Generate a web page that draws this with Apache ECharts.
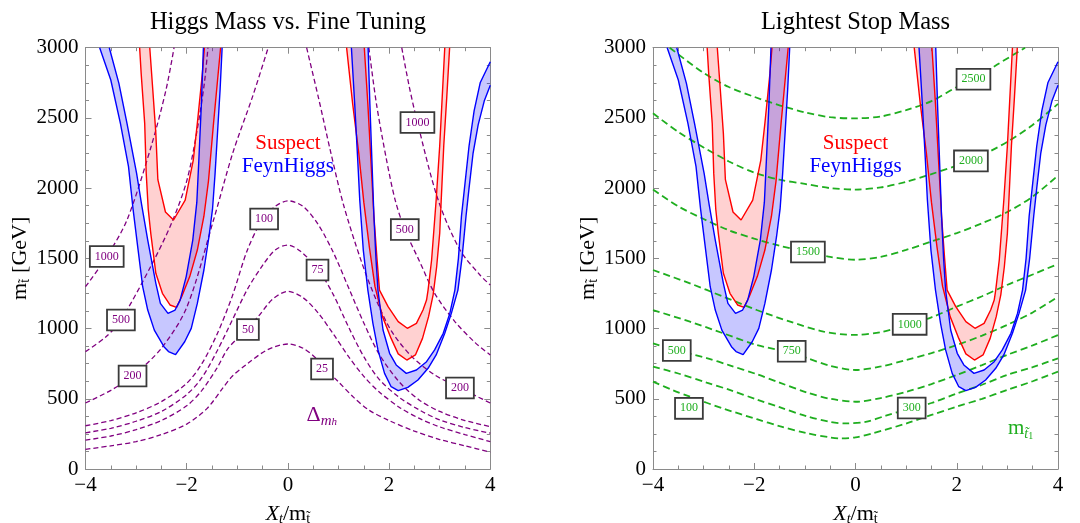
<!DOCTYPE html>
<html><head><meta charset="utf-8">
<script src="https://cdn.jsdelivr.net/npm/echarts@6/dist/echarts.min.js"></script>
<style>html,body{margin:0;padding:0;background:#fff}#c{width:1080px;height:523px}</style>
</head><body><div id="c"></div>
<script>
// ---------------- DATA ----------------
const panelTitles = ['Higgs Mass vs. Fine Tuning', 'Lightest Stop Mass'];
const xRange = [-4, 4];
const yRange = [0, 3000];

// Higgs-mass bands (same in both panels) : [X_t/m, m_stop]
// Left "U" (negative X_t)
const blueOuterL = [[-3.72,3000],[-3.50,2770],[-3.31,2461],[-3.15,2153],[-3.06,1850],[-2.96,1559],[-2.87,1298],[-2.77,1132],[-2.64,989],[-2.45,871],[-2.36,836],[-2.22,815],[-2.04,906],[-1.91,1001],[-1.79,1179],[-1.66,1417],[-1.56,1654],[-1.49,1850],[-1.44,2100],[-1.39,2400],[-1.34,2700],[-1.30,3000]];
const blueInnerL = [[-3.53,3000],[-3.34,2746],[-3.18,2461],[-2.99,2105],[-2.89,1880],[-2.77,1630],[-2.61,1322],[-2.52,1179],[-2.37,1108],[-2.23,1132],[-2.13,1203],[-2.01,1370],[-1.88,1630],[-1.80,1900],[-1.76,2200],[-1.71,2600],[-1.67,3000]];
const redOuterL = [[-2.93,3000],[-2.90,2817],[-2.83,2461],[-2.80,2105],[-2.76,1850],[-2.71,1678],[-2.61,1394],[-2.48,1251],[-2.33,1168],[-2.20,1151],[-2.10,1227],[-1.94,1370],[-1.79,1559],[-1.66,1800],[-1.57,2050],[-1.47,2461],[-1.39,2770],[-1.33,3000]];
const redInnerL = [[-2.73,3000],[-2.67,2699],[-2.61,2390],[-2.57,2060],[-2.42,1830],[-2.26,1773],[-2.03,1915],[-1.87,2200],[-1.79,2461],[-1.69,2817],[-1.65,3000]];
// Right "U" (positive X_t)
const blueOuterR = [[1.255,3000],[1.32,2600],[1.38,2200],[1.42,1915],[1.49,1559],[1.58,1274],[1.68,1037],[1.78,848],[1.91,681],[2.04,586],[2.18,558],[2.37,581],[2.57,634],[2.77,717],[2.93,812],[3.10,966],[3.23,1108],[3.36,1274],[3.44,1500],[3.52,1800],[3.58,2000],[3.66,2250],[3.76,2450],[3.88,2620],[4.0,2733]];
const blueInnerR = [[1.585,3000],[1.62,2600],[1.66,2200],[1.70,1800],[1.74,1500],[1.78,1274],[1.88,990],[2.01,824],[2.14,741],[2.34,681],[2.54,705],[2.74,764],[2.90,848],[3.07,966],[3.20,1108],[3.30,1274],[3.37,1500],[3.43,1800],[3.49,2000],[3.58,2300],[3.68,2550],[3.80,2750],[4.0,2900]];
const redOuterR = [[1.16,3000],[1.28,2600],[1.40,2250],[1.50,1900],[1.61,1580],[1.72,1300],[1.87,1085],[2.04,930],[2.18,820],[2.35,776],[2.52,812],[2.66,930],[2.78,1085],[2.87,1240],[2.94,1440],[3.00,1678],[3.03,1915],[3.08,2300],[3.14,2650],[3.196,3000]];
const redInnerR = [[1.51,3000],[1.58,2600],[1.64,2200],[1.70,1800],[1.76,1500],[1.81,1274],[1.98,1156],[2.18,1049],[2.36,1002],[2.54,1037],[2.67,1132],[2.74,1203],[2.77,1274],[2.84,1488],[2.93,1915],[3.00,2300],[3.05,2650],[3.10,3000]];

// Fine-tuning contours Delta_mh (left panel)
const dm25 = [[-4,140],[-3.5,165],[-3,195],[-2.5,245],[-2,320],[-1.6,430],[-1.3,570],[-1.1,660],[-0.8,750],[-0.4,850],[0,890],[0.3,860],[0.55,790],[0.75,710],[1.0,620],[1.3,510],[1.6,420],[2.0,345],[2.5,270],[3.0,210],[3.5,165],[4,120]];
const dm50 = [[-4,205],[-3.5,235],[-3,280],[-2.5,345],[-2,450],[-1.7,560],[-1.4,720],[-1.2,850],[-1,930],[-0.6,1080],[-0.3,1210],[0,1265],[0.3,1220],[0.6,1110],[0.9,960],[1.2,800],[1.5,660],[1.8,550],[2.2,440],[2.6,360],[3,300],[3.5,245],[4,195]];
const dm75 = [[-4,258],[-3.5,290],[-3,340],[-2.5,410],[-2,530],[-1.7,650],[-1.4,840],[-1.1,1060],[-0.8,1280],[-0.5,1450],[-0.25,1560],[0,1595],[0.25,1550],[0.6,1420],[0.9,1240],[1.2,1010],[1.5,800],[1.8,640],[2.2,510],[2.6,420],[3,350],[3.5,295],[4,255]];
const dm100 = [[-4,308],[-3.5,345],[-3,400],[-2.5,480],[-2,610],[-1.7,750],[-1.4,960],[-1.1,1230],[-0.8,1560],[-0.5,1780],[-0.25,1870],[0,1910],[0.3,1870],[0.6,1740],[0.9,1540],[1.2,1290],[1.5,1040],[1.8,820],[2.2,620],[2.6,490],[3,410],[3.5,345],[4,302]];
const dm200L = [[-4,470],[-3.5,560],[-3.07,662],[-2.5,860],[-2,1150],[-1.47,1773],[-1.09,2250],[-0.7,2650],[-0.39,3000]];
const dm200R = [[0.37,3000],[0.6,2650],[0.85,2250],[1.1,1880],[1.45,1480],[1.75,1200],[2.05,980],[2.45,800],[2.9,670],[3.4,577],[4,470]];
const dm500L = [[-4,836],[-3.6,940],[-3.3,1061],[-2.7,1450],[-2.3,1750],[-2.0,2050],[-1.8,2400],[-1.65,2750],[-1.58,3000]];
const dm500R = [[1.60,3000],[1.75,2600],[1.95,2200],[2.12,1915],[2.31,1706],[2.6,1480],[2.9,1251],[3.3,1050],[3.7,900],[4,812]];
const dm1000L = [[-4,1298],[-3.58,1513],[-3.18,1773],[-2.7,2300],[-2.41,2698],[-2.25,3000]];
const dm1000R = [[2.25,3000],[2.4,2720],[2.56,2467],[2.97,1915],[3.4,1560],[3.8,1380],[4,1310]];
const dmLabels = [[-3.58,1513,'1000'],[-3.30,1061,'500'],[-3.07,662,'200'],[-0.47,1780,'100'],[0.585,1417,'75'],[-0.79,993,'50'],[0.675,712,'25'],[2.56,2467,'1000'],[2.31,1705,'500'],[3.40,577,'200']];

// Lightest stop mass contours (right panel)
const st100 = [[-4,622],[-3.6,560],[-3.27,515],[-2.61,430],[-1.95,355],[-1.5,305],[-0.96,255],[-0.5,225],[-0.3,218],[0,225],[0.35,255],[1.01,325],[1.5,385],[2,444],[2.5,500],[2.99,562],[3.5,625],[4,693]];
const st300 = [[-4,729],[-3.5,680],[-2.94,615],[-2.5,565],[-1.95,495],[-1.5,440],[-0.96,375],[-0.5,335],[-0.2,325],[0.2,335],[0.6,380],[1.11,434],[1.5,470],[2,538],[2.5,600],[2.99,669],[3.5,725],[4,788]];
const st500 = [[-4,895],[-3.53,844],[-2.94,790],[-2.5,740],[-1.95,675],[-1.5,615],[-0.96,545],[-0.5,500],[0,479],[0.5,505],[1.01,550],[1.5,605],[2,670],[2.5,740],[2.99,812],[3.5,880],[4,954]];
const st750 = [[-4,1132],[-3.27,1049],[-2.61,966],[-1.95,883],[-1.29,830],[-0.96,790],[-0.5,735],[0,705],[0.5,730],[1.01,777],[1.5,825],[2,883],[2.5,950],[2.99,1025],[3.5,1115],[4,1227]];
const st1000 = [[-4,1417],[-3.27,1322],[-2.61,1227],[-1.95,1132],[-1.29,1049],[-0.63,978],[0,955],[0.5,975],[1.07,1030],[1.5,1080],[2,1156],[2.5,1230],[2.99,1310],[3.5,1385],[4,1460]];
const st1500 = [[-4,1990],[-3.5,1870],[-3,1780],[-2.5,1700],[-2,1640],[-1.5,1590],[-0.94,1545],[-0.5,1510],[0,1490],[0.5,1510],[1,1560],[1.5,1620],[2,1680],[2.5,1750],[3,1830],[3.5,1940],[4,2090]];
const st2000 = [[-4,2533],[-3.5,2400],[-3,2290],[-2.5,2190],[-2,2110],[-1.5,2060],[-1,2030],[-0.5,2000],[0,1990],[0.5,2005],[1,2045],[1.5,2100],[2,2160],[2.28,2194],[3,2330],[3.5,2450],[4,2600]];
const st2500 = [[-3.67,3000],[-3.0,2820],[-2.5,2720],[-2,2650],[-1.5,2590],[-1,2540],[-0.5,2505],[0,2497],[0.5,2510],[1.0,2556],[1.5,2620],[2.0,2720],[2.33,2775],[2.8,2880],[3.35,3000]];
const stLabels = [[2.33,2775,'2500'],[2.28,2194,'2000'],[-0.94,1545,'1500'],[1.07,1030,'1000'],[-1.26,838,'750'],[-3.53,844,'500'],[1.11,434,'300'],[-3.29,432,'100']];

// Text annotations
const codeNames = [[0,2320,'Suspect'],[0,2152,'FeynHiggs']];
const deltaLabel = [0.67,384];
const stopLabel = [3.26,290];

// ---------------- STYLE / BUILD ----------------
const FONT = '"Liberation Serif","DejaVu Serif",serif';
const AX = '#8a8a8a';
const PURPLE = '#800080', GREEN = '#1fae1f', RED = '#ff0000', BLUE = '#0000ff';
const grids = [
  {left:85.5, top:47.7, width:404.8, height:421.3, outerBoundsMode:'none', containLabel:false},
  {left:653, top:47.7, width:405, height:421.3, outerBoundsMode:'none', containLabel:false}
];
const fmtX = v => v < 0 ? '\u2212' + (-v) : String(v);

function xAxes(g) {
  const base = {type:'value', gridIndex:g, min:xRange[0], max:xRange[1], interval:2,
    axisLine:{onZero:false, lineStyle:{color:AX, width:1}},
    axisTick:{inside:true, length:6, lineStyle:{color:AX}},
    minorTick:{show:true, splitNumber:4, length:3.5, lineStyle:{color:AX}},
    splitLine:{show:false}, minorSplitLine:{show:false}};
  return [
    Object.assign({}, base, {position:'bottom',
      axisLabel:{color:'#000', fontFamily:FONT, fontSize:21, margin:6, formatter:fmtX},
      name:'{X|X}{t|t}{n|/m}{s|t\u0303}', nameLocation:'middle', nameGap:33,
      nameTextStyle:{fontFamily:FONT, color:'#000', rich:{
        X:{fontFamily:FONT, fontSize:22, fontStyle:'italic', color:'#000', lineHeight:24},
        t:{fontFamily:FONT, fontSize:14, fontStyle:'italic', color:'#000', verticalAlign:'bottom', padding:[8,0,0,0]},
        n:{fontFamily:FONT, fontSize:22, color:'#000', lineHeight:24},
        s:{fontFamily:FONT, fontSize:14, color:'#000', verticalAlign:'bottom', padding:[8,0,0,0]}}}}),
    Object.assign({}, base, {position:'top', axisLabel:{show:false}})
  ];
}
function yAxes(g) {
  const base = {type:'value', gridIndex:g, min:yRange[0], max:yRange[1], interval:500,
    axisLine:{onZero:false, lineStyle:{color:AX, width:1}},
    axisTick:{inside:true, length:6, lineStyle:{color:AX}},
    minorTick:{show:true, splitNumber:4, length:3.5, lineStyle:{color:AX}},
    splitLine:{show:false}, minorSplitLine:{show:false}};
  return [
    Object.assign({}, base, {position:'left',
      axisLabel:{color:'#000', fontFamily:FONT, fontSize:21, margin:7, formatter:v => String(v)},
      name:'{m|m}{s|t\u0303}  {g|[GeV]}', nameLocation:'middle', nameGap:49, nameRotate:90,
      nameTextStyle:{fontFamily:FONT, color:'#000', rich:{
        m:{fontFamily:FONT, fontSize:22, color:'#000', lineHeight:24},
        s:{fontFamily:FONT, fontSize:14, color:'#000', verticalAlign:'bottom', padding:[8,0,0,0]},
        g:{fontFamily:FONT, fontSize:22, color:'#000', lineHeight:24}}}}),
    Object.assign({}, base, {position:'right', axisLabel:{show:false}})
  ];
}

function band(ai, outer, inner, fill) {
  const pts = outer.concat(inner.slice().reverse());
  return {type:'custom', xAxisIndex:ai, yAxisIndex:ai, silent:true, z:1, clip:true,
    data:[[0,0]], encode:{x:0, y:1},
    renderItem:(params, api) => ({type:'polygon',
      shape:{points: pts.map(p => api.coord(p))}, style:{fill:fill}})};
}
function line(ai, data, color, width, dash, smooth, z) {
  return {type:'line', xAxisIndex:ai, yAxisIndex:ai, data:data, symbol:'none', showSymbol:false,
    smooth:smooth, silent:true, z:z, clip:true, lineStyle:{color:color, width:width, type:dash}};
}
// text placed at data coordinates (custom series, positioned through api.coord)
function textSeries(ai, data, styleFn) {
  return {type:'custom', xAxisIndex:ai, yAxisIndex:ai, silent:true, z:10, clip:false,
    data:data, encode:{x:0, y:1},
    renderItem:(params, api) => {
      const d = data[params.dataIndex];
      const p = api.coord([d[0], d[1]]);
      return {type:'text', x:p[0], y:p[1], z2:10, style:styleFn(d, params.dataIndex)};
    }};
}
function boxStyle(color) {
  return d => ({text:d[2], align:'center', verticalAlign:'middle', fill:color,
    font:'12px ' + FONT, backgroundColor:'#fff', borderColor:'#3a3a3a', borderWidth:1.8,
    padding:[4,4,3,4]});
}

const series = [];
[0, 2].forEach(ai => {
  series.push(band(ai, redOuterL, redInnerL, 'rgba(255,0,0,0.18)'));
  series.push(band(ai, redOuterR, redInnerR, 'rgba(255,0,0,0.18)'));
  series.push(band(ai, blueOuterL, blueInnerL, 'rgba(0,0,255,0.22)'));
  series.push(band(ai, blueOuterR, blueInnerR, 'rgba(0,0,255,0.22)'));
});
[dm25, dm50, dm75, dm100, dm200L, dm200R, dm500L, dm500R, dm1000L, dm1000R].forEach(d =>
  series.push(line(0, d, PURPLE, 1.3, [5,3], 0.3, 2)));
[st100, st300, st500, st750, st1000, st1500, st2000, st2500].forEach(d =>
  series.push(line(2, d, GREEN, 1.8, [7,4], 0.3, 2)));
[0, 2].forEach(ai => {
  [redOuterL, redInnerL, redOuterR, redInnerR].forEach(d => series.push(line(ai, d, RED, 1.4, 'solid', false, 3)));
  [blueOuterL, blueInnerL, blueOuterR, blueInnerR].forEach(d => series.push(line(ai, d, BLUE, 1.4, 'solid', false, 3)));
});
series.push(textSeries(0, dmLabels, boxStyle(PURPLE)));
series.push(textSeries(2, stLabels, boxStyle(GREEN)));
[0, 2].forEach(ai => {
  series.push(textSeries(ai, codeNames, (d, i) => ({text:d[2], align:'center', verticalAlign:'middle',
    fill: i === 0 ? RED : BLUE, font:'21px ' + FONT})));
});
series.push(textSeries(0, [deltaLabel], () => ({text:'{d|\u0394}{m|m}{h|h}', align:'center', verticalAlign:'middle',
  rich:{
    d:{fontFamily:FONT, fontSize:22, fill:PURPLE, lineHeight:26},
    m:{fontFamily:FONT, fontSize:15, fontStyle:'italic', fill:PURPLE, verticalAlign:'bottom', padding:[10,0,0,0]},
    h:{fontFamily:FONT, fontSize:11, fontStyle:'italic', fill:PURPLE, verticalAlign:'bottom', padding:[14,0,0,0]}}})));
series.push(textSeries(2, [stopLabel], () => ({text:'{m|m}{t|t\u0303}{o|1}', align:'center', verticalAlign:'middle',
  rich:{
    m:{fontFamily:FONT, fontSize:21, fill:GREEN, lineHeight:26},
    t:{fontFamily:FONT, fontSize:14, fontStyle:'italic', fill:GREEN, verticalAlign:'bottom', padding:[10,0,0,0]},
    o:{fontFamily:FONT, fontSize:10, fill:GREEN, verticalAlign:'bottom', padding:[14,0,0,0]}}})));

const option = {
  animation:false,
  backgroundColor:'#fff',
  grid: grids,
  xAxis: xAxes(0).concat(xAxes(1)),
  yAxis: yAxes(0).concat(yAxes(1)),
  graphic: panelTitles.map((t, i) => ({type:'text', x: i === 0 ? 288 : 855.5, y: 23,
    style:{text:t, align:'center', verticalAlign:'middle', textAlign:'center', textVerticalAlign:'middle',
      fontFamily:FONT, fontSize:24.5, fill:'#000'}})),
  series: series
};
const chart = echarts.init(document.getElementById('c'), null, {renderer:'canvas'});
chart.setOption(option);
</script>
</body></html>
